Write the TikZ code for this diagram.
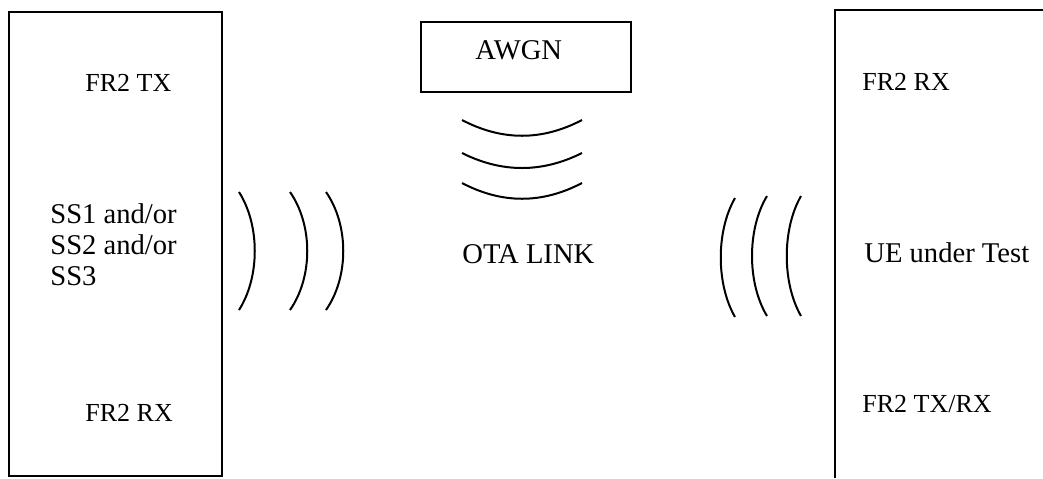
\documentclass[tikz,border=0pt]{standalone}
\usepackage{fontspec}
\setmainfont{Liberation Serif}
\usepackage{tikz}
\usetikzlibrary{positioning}
\tikzset{
  blk_box/.style = {draw, line width=1pt, rectangle, inner sep=0pt},
  lbl_txt/.style = {anchor=west, inner sep=0pt, align=left, font=\fontsize{13}{15.5}\selectfont},
  lbl_big/.style = {lbl_txt, font=\fontsize{14.3}{15.5}\selectfont},
  wave/.style = {line width=1pt}
}

\begin{document}
\begin{tikzpicture}[x=0.5pt,y=-0.5pt]
\useasboundingbox (0,0) rectangle (1043,478);
% base station side
\node [blk_box, minimum width=106.5pt, minimum height=232pt, anchor=north west] (bs) at (8,11) {};
\node [lbl_txt] (bs_tx) at (85,83) {FR2 TX};
\node [lbl_big] (bs_ss) at (50,245) {SS1 and/or\\SS2 and/or\\SS3};
\node [lbl_txt] (bs_rx) at (85,413) {FR2 RX};
% noise source
\node [blk_box, minimum width=105pt, minimum height=35pt, anchor=north west] (awgn) at (420,21) {};
\node [lbl_big] (awgn_lbl) at (475,50) {AWGN};
\node [lbl_big] (ota) at (462,254) {OTA LINK};
% UE side, open at the bottom and right
\coordinate (ue_bl) at (835,478);
\coordinate (ue_tr) at (1043,10);
\draw [line width=1pt] (ue_bl) |- (ue_tr);
\node [lbl_txt] (ue_rx) at (862,82) {FR2 RX};
\node [lbl_big] (ue) at (864,253) {UE under Test};
\node [lbl_txt] (ue_trx) at (862,404) {FR2 TX/RX};
% waves
\draw [wave] (239,192) .. controls (260,225) and (260,277) .. (239,310);
\draw [wave] (290,192) .. controls (313,225) and (313,277) .. (290,310);
\draw [wave] (326,192) .. controls (349,225) and (349,277) .. (326,310);
\draw [wave] (735,198) .. controls (716,231) and (716,284) .. (735,317);
\draw [wave] (767,196) .. controls (747,229) and (747,283) .. (767,316);
\draw [wave] (801,196) .. controls (782,229) and (782,283) .. (801,316);
\draw [wave] (462,120) .. controls (502,141) and (542,141) .. (582,120);
\draw [wave] (462,153) .. controls (502,173) and (542,173) .. (582,153);
\draw [wave] (462,183) .. controls (502,204) and (542,204) .. (582,183);
\end{tikzpicture}
\end{document}
